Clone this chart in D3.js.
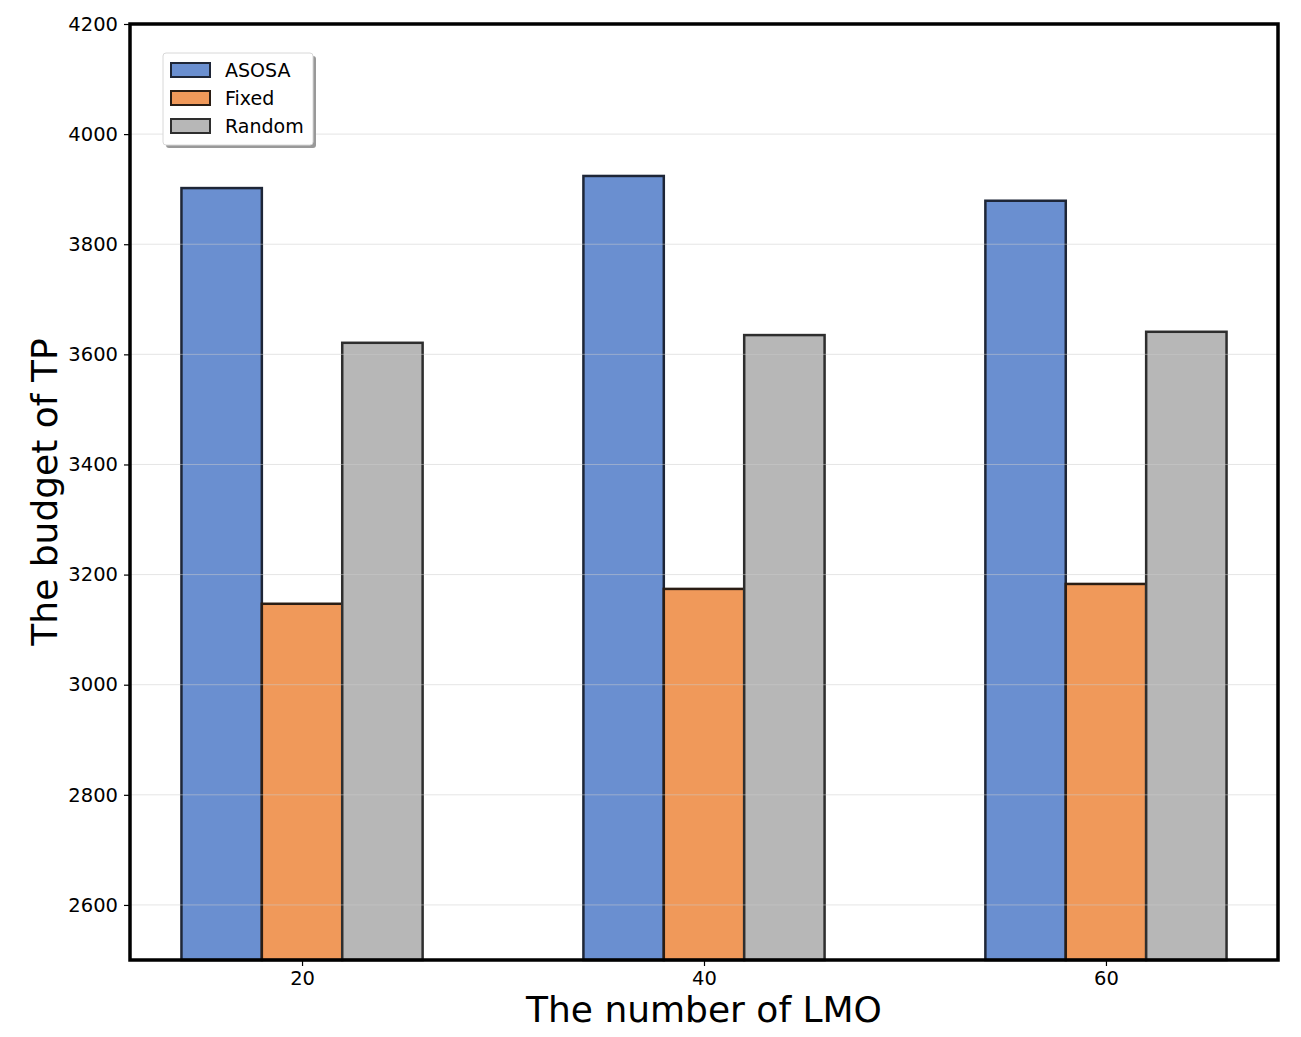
<!DOCTYPE html>
<html lang="en">
<head>
<meta charset="UTF-8">
<title>The budget of TP</title>
<script src="https://d3js.org/d3.v7.min.js"></script>
<style>
  body { margin: 0; background: #fff; font-family: "DejaVu Sans", sans-serif; }
</style>
</head>
<body>
<svg width="1301" height="1037"></svg>
<script>
const categories = [20, 40, 60];
const seriesNames = ["ASOSA", "Fixed", "Random"];
const asosa = [3902, 3924, 3879];
const fixed = [3147, 3174, 3183];
const random = [3621, 3635, 3641];
const yTicks = [2600, 2800, 3000, 3200, 3400, 3600, 3800, 4000, 4200];

const fills = ["#6a8fd0", "#f0995a", "#b7b7b7"];
const strokes = ["#1e2637", "#2a1d14", "#2e2e2e"];
const series = [asosa, fixed, random];

const margin = { top: 24, right: 23, bottom: 77, left: 130 };
const width = 1301 - margin.left - margin.right,
      height = 1037 - margin.top - margin.bottom;

const svg = d3.select("svg").append("g")
    .attr("transform", `translate(${margin.left},${margin.top})`);

const barW = 4;
const x = d3.scaleLinear().domain([11.44, 68.56]).range([0, width]);
const y = d3.scaleLinear().domain([2500, 4200]).range([height, 0]);

// bars
series.forEach((vals, s) => {
    svg.append("g").selectAll("rect")
       .data(vals)
       .join("rect")
       .attr("x", (d, i) => x(categories[i] + (s - 1) * barW - barW / 2))
       .attr("width", x(barW) - x(0))
       .attr("y", d => y(d))
       .attr("height", d => y(2500) - y(d))
       .attr("fill", fills[s])
       .attr("stroke", strokes[s])
       .attr("stroke-width", 2.5);
});

// grid on top, faint
svg.append("g").selectAll("line")
   .data(yTicks.slice(0, -1))
   .join("line")
   .attr("x1", 0).attr("x2", width)
   .attr("y1", d => y(d)).attr("y2", d => y(d))
   .attr("stroke", "#cccccc")
   .attr("stroke-opacity", 0.5)
   .attr("stroke-width", 1);

// axes
const xAxis = svg.append("g")
   .attr("transform", `translate(0,${height})`)
   .call(d3.axisBottom(x).tickValues(categories).tickSize(6).tickPadding(5).tickFormat(d3.format("d")));
const yAxis = svg.append("g")
   .call(d3.axisLeft(y).tickValues(yTicks).tickSize(6).tickPadding(6).tickFormat(d3.format("d")));
[xAxis, yAxis].forEach(a => {
    a.attr("font-size", null).attr("font-family", null);
    a.select(".domain").remove();
    a.selectAll(".tick line").attr("stroke", "#000").attr("stroke-width", 1.2);
    a.selectAll(".tick text")
     .style("font-family", "DejaVu Sans")
     .style("font-size", "19.5px")
     .attr("fill", "#000");
});

// frame
svg.append("rect")
   .attr("width", width).attr("height", height)
   .attr("fill", "none").attr("stroke", "#000").attr("stroke-width", 3.5);

// axis labels
svg.append("text")
   .attr("x", width / 2).attr("y", height + 62)
   .attr("text-anchor", "middle")
   .style("font-size", "36px")
   .text("The number of LMO");

svg.append("text")
   .attr("transform", "rotate(-90)")
   .attr("x", -height / 2).attr("y", -73)
   .attr("text-anchor", "middle")
   .style("font-size", "36px")
   .text("The budget of TP");

// legend
const lg = svg.append("g").attr("transform", "translate(33,29)");
lg.append("rect")
  .attr("x", 3).attr("y", 3).attr("width", 150).attr("height", 92).attr("rx", 3)
  .attr("fill", "#999");
lg.append("rect")
  .attr("width", 150).attr("height", 92).attr("rx", 3)
  .attr("fill", "#fff").attr("stroke", "#d8d8d8");
seriesNames.forEach((name, i) => {
    const row = lg.append("g").attr("transform", `translate(8,${17 + i * 28})`);
    row.append("rect")
       .attr("x", 0).attr("y", -7).attr("width", 39).attr("height", 14)
       .attr("fill", fills[i]).attr("stroke", strokes[i]).attr("stroke-width", 2);
    row.append("text")
       .attr("x", 54).attr("y", 7)
       .style("font-size", "19px")
       .text(name);
});
</script>
</body>
</html>
